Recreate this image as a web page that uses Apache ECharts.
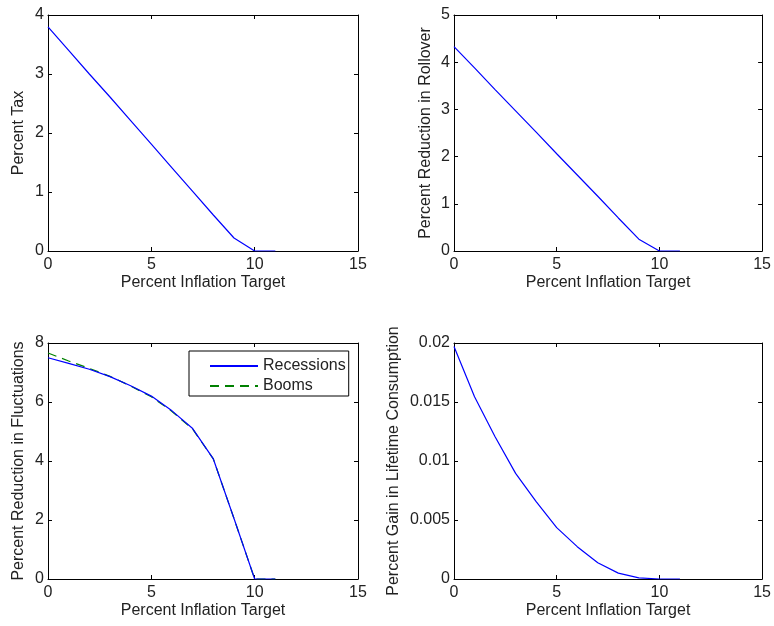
<!DOCTYPE html>
<html>
<head>
<meta charset="utf-8">
<script src="https://cdn.jsdelivr.net/npm/echarts@6/dist/echarts.min.js"></script>
<style>
html,body{margin:0;padding:0;background:#fff;}
#chart{width:774px;height:626px;}
</style>
</head>
<body>
<div id="chart"></div>
<script>
const inflationTarget = [0, 1, 2, 3, 4, 5, 6, 7, 8, 9, 10, 11];
const percentTax = [3.80, 3.40, 3.00, 2.61, 2.21, 1.81, 1.41, 1.01, 0.61, 0.22, 0, 0];
const rolloverReduction = [4.33, 3.88, 3.42, 2.97, 2.52, 2.06, 1.61, 1.16, 0.70, 0.25, 0, 0];
const recessions = [7.50, 7.31, 7.11, 6.86, 6.55, 6.20, 5.70, 5.10, 4.07, 2.05, 0, 0];
const booms = [7.66, 7.39, 7.14, 6.87, 6.54, 6.18, 5.68, 5.08, 4.07, 2.05, 0, 0];
const consumptionGain = [0.0197, 0.01545, 0.01206, 0.00895, 0.00655, 0.00435, 0.00274, 0.00138, 0.0005, 0.0001, 0, 0];

const xTitle = 'Percent Inflation Target';
const yTitles = ['Percent Tax', 'Percent Reduction in Rollover', 'Percent Reduction in Fluctuations', 'Percent Gain in Lifetime Consumption'];
const yRanges = [[0, 4, 1], [0, 5, 1], [0, 8, 2], [0, 0.02, 0.005]];
const xRange = [0, 15, 5];

const FONT = 'Liberation Sans, Arial, sans-serif';
const TXT = '#222';

const grids = [
  {left: 48, top: 15, width: 310, height: 236},
  {left: 454, top: 15, width: 309, height: 236},
  {left: 48, top: 343, width: 310, height: 236},
  {left: 454, top: 343, width: 309, height: 236}
];
const yNameGaps = [21, 20, 21, 52];

const pairs = (ys) => inflationTarget.map((x, i) => [x, ys[i]]);

const xAxes = [], yAxes = [];
grids.forEach((g, i) => {
  const base = {
    type: 'value', gridIndex: i,
    axisLine: {show: true, onZero: false, lineStyle: {color: '#000', width: 1}},
    axisTick: {show: true, inside: true, length: 4, lineStyle: {color: '#000'}},
    splitLine: {show: false}
  };
  xAxes.push(Object.assign({}, base, {
    position: 'bottom', min: xRange[0], max: xRange[1], interval: xRange[2],
    name: xTitle, nameLocation: 'middle', nameGap: 24,
    nameTextStyle: {fontFamily: FONT, fontSize: 16, color: TXT},
    axisLabel: {show: true, margin: 6, fontFamily: FONT, fontSize: 16, color: TXT}
  }));
  xAxes.push(Object.assign({}, base, {
    position: 'top', min: xRange[0], max: xRange[1], interval: xRange[2],
    axisLabel: {show: false}
  }));
  const r = yRanges[i];
  yAxes.push(Object.assign({}, base, {
    position: 'left', min: r[0], max: r[1], interval: r[2],
    name: yTitles[i], nameLocation: 'middle', nameGap: yNameGaps[i], nameRotate: 90,
    nameTextStyle: {fontFamily: FONT, fontSize: 16, color: TXT},
    axisLabel: {show: true, margin: 4, fontFamily: FONT, fontSize: 16, color: TXT}
  }));
  yAxes.push(Object.assign({}, base, {
    position: 'right', min: r[0], max: r[1], interval: r[2],
    axisLabel: {show: false}
  }));
});

const lineSeries = (name, ys, gi, color, type) => ({
  name: name, type: 'line', xAxisIndex: gi * 2, yAxisIndex: gi * 2,
  data: pairs(ys), symbol: 'none', showSymbol: false, animation: false,
  lineStyle: {color: color, width: 1.2, type: type || 'solid'},
  itemStyle: {color: color}
});

const option = {
  backgroundColor: '#fff',
  animation: false,
  grid: grids,
  xAxis: xAxes,
  yAxis: yAxes,
  legend: {
    orient: 'vertical', left: 189, top: 351,
    data: ['Recessions', 'Booms'],
    borderColor: '#000', borderWidth: 1, padding: [7, 3, 2, 20],
    itemWidth: 48, itemHeight: 14, itemGap: 4,
    itemStyle: {opacity: 0},
    textStyle: {fontFamily: FONT, fontSize: 16, color: TXT},
    backgroundColor: '#fff'
  },
  series: [
    lineSeries('Tax', percentTax, 0, '#0000ff'),
    lineSeries('Rollover', rolloverReduction, 1, '#0000ff'),
    lineSeries('Booms', booms, 2, '#008000', [9, 6]),
    lineSeries('Recessions', recessions, 2, '#0000ff'),
    lineSeries('Consumption', consumptionGain, 3, '#0000ff')
  ]
};

const chart = echarts.init(document.getElementById('chart'), null, {renderer: 'canvas'});
chart.setOption(option);
</script>
</body>
</html>
